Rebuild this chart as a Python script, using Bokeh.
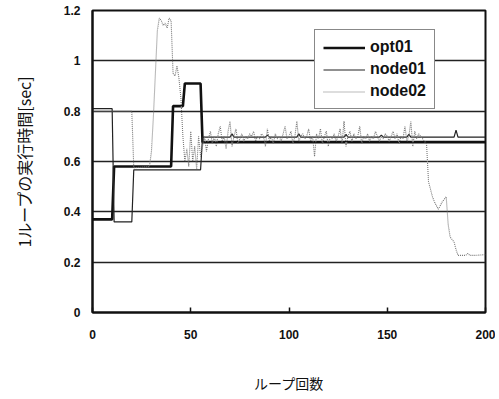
from bokeh.plotting import figure
from bokeh.models import FixedTicker, Legend, LegendItem, CustomJSTickFormatter, Range1d
from bokeh.embed import file_html
from bokeh.resources import INLINE

# ---- data ----
x_ticks = [0, 50, 100, 150, 200]
y_ticks = [0, 0.2, 0.4, 0.6, 0.8, 1.0, 1.2]

opt01_x = [0, 10, 11, 40, 41, 46, 47, 55, 56, 200]
opt01_y = [0.37, 0.37, 0.58, 0.58, 0.82, 0.82, 0.91, 0.91, 0.677, 0.677]

node01_x = [0, 10, 11, 20, 21, 55, 56, 70, 71, 72, 88, 89, 90, 104, 105, 106,
            128, 129, 130, 146, 147, 148, 160, 161, 162, 184, 185, 186, 200]
node01_y = [0.81, 0.81, 0.36, 0.36, 0.567, 0.567, 0.697, 0.697, 0.71, 0.697, 0.697, 0.705, 0.697, 0.697, 0.71, 0.697,
            0.697, 0.708, 0.697, 0.697, 0.705, 0.697, 0.697, 0.708, 0.697, 0.697, 0.725, 0.697, 0.697]

node02_x = [0, 20, 21, 29, 30, 31, 32, 33, 34, 35, 36, 37, 38, 39, 40, 41, 42, 43, 44, 45,
            46, 47, 48, 49, 50, 51, 52, 53, 54, 55,
            56, 57, 58, 59, 60, 61, 62, 63, 64, 65, 66, 67, 68, 69, 70, 71, 72, 73, 74, 75,
            76, 77, 78, 79, 80, 81, 82, 83, 84, 85, 86, 87, 88, 89, 90, 91, 92, 93, 94, 95,
            96, 97, 98, 99, 100, 101, 102, 103, 104, 105, 106, 107, 108, 109, 110, 111, 112, 113, 114, 115,
            116, 117, 118, 119, 120, 121, 122, 123, 124, 125, 126, 127, 128, 129, 130, 131, 132, 133, 134, 135,
            136, 137, 138, 139, 140, 141, 142, 143, 144, 145, 146, 147, 148, 149, 150, 151, 152, 153, 154, 155,
            156, 157, 158, 159, 160, 161, 162, 163, 164, 165, 166, 167, 168, 169, 170,
            171, 172, 173, 174, 176, 178, 180, 181, 182, 183, 184, 185, 186, 188, 190, 191, 192, 195, 200]
node02_y = [0.80, 0.80, 0.575, 0.58, 0.64, 0.78, 0.95, 1.12, 1.17, 1.16, 1.14, 1.15, 1.13, 1.17, 1.16, 0.95, 0.94, 0.98, 0.93, 0.85,
            0.70, 0.60, 0.65, 0.58, 0.72, 0.60, 0.66, 0.57, 0.70, 0.62,
            0.66, 0.70, 0.64, 0.69, 0.72, 0.67, 0.70, 0.66, 0.71, 0.74, 0.68, 0.70, 0.65, 0.72, 0.76, 0.66, 0.70, 0.73, 0.67, 0.69,
            0.71, 0.68, 0.70, 0.69, 0.71, 0.70, 0.72, 0.68, 0.70, 0.69, 0.71, 0.70, 0.66, 0.73, 0.68, 0.70, 0.67, 0.71, 0.69, 0.70,
            0.68, 0.71, 0.74, 0.69, 0.70, 0.72, 0.67, 0.70, 0.76, 0.68, 0.70, 0.71, 0.69, 0.70, 0.73, 0.68, 0.70, 0.62, 0.71, 0.69,
            0.73, 0.67, 0.70, 0.72, 0.66, 0.70, 0.69, 0.71, 0.68, 0.70, 0.73, 0.67, 0.76, 0.66, 0.70, 0.72, 0.68, 0.71, 0.69, 0.70,
            0.74, 0.67, 0.70, 0.69, 0.71, 0.68, 0.70, 0.69, 0.72, 0.70, 0.68, 0.70, 0.69, 0.71, 0.70, 0.68, 0.70, 0.72, 0.69, 0.71,
            0.67, 0.70, 0.69, 0.74, 0.68, 0.70, 0.76, 0.66, 0.72, 0.69, 0.71, 0.70, 0.69, 0.68, 0.67,
            0.52, 0.49, 0.46, 0.44, 0.41, 0.44, 0.46, 0.35, 0.30, 0.29, 0.28, 0.25, 0.227, 0.227, 0.227, 0.235, 0.227, 0.227, 0.23]

FONT = "Liberation Sans"
JFONT = "Noto Sans CJK JP"

p = figure(width=495, height=395, output_backend="svg", toolbar_location=None,
           x_range=Range1d(0, 200), y_range=Range1d(0, 1.2),
           min_border_left=92, min_border_right=10, min_border_top=10, min_border_bottom=83)
p.background_fill_color = "white"
p.border_fill_color = "white"
p.outline_line_color = "#111111"
p.outline_line_width = 2

p.xgrid.visible = False
p.ygrid.ticker = FixedTicker(ticks=y_ticks)
p.ygrid.grid_line_color = "#222222"
p.ygrid.grid_line_width = 1.3

p.xaxis.ticker = FixedTicker(ticks=x_ticks)
p.yaxis.ticker = FixedTicker(ticks=y_ticks)
p.yaxis.formatter = CustomJSTickFormatter(code="return tick.toFixed(1).replace(/\\.0$/, '')")

for ax in (p.xaxis[0], p.yaxis[0]):
    ax.axis_line_color = "#111111"
    ax.axis_line_width = 2
    ax.minor_tick_line_color = None
    ax.major_label_text_font = FONT
    ax.major_label_text_font_style = "bold"
    ax.major_label_text_font_size = "12px"
    ax.major_label_text_color = "#111111"
    ax.axis_label_text_font = JFONT
    ax.axis_label_text_font_style = "normal"
    ax.axis_label_text_color = "#111111"

p.xaxis.major_tick_in = 5
p.xaxis.major_tick_out = 0
p.xaxis.major_tick_line_width = 1.5
p.xaxis.major_tick_line_color = "#111111"
p.xaxis.major_label_standoff = 17
p.xaxis.axis_label = "ループ回数"
p.xaxis.axis_label_text_font_size = "14px"
p.xaxis.axis_label_standoff = 31

p.yaxis.major_tick_in = 0
p.yaxis.major_tick_out = 0
p.yaxis.major_label_standoff = 12
p.yaxis.axis_label = "1ループの実行時間[sec]"
p.yaxis.axis_label_text_font_size = "16px"
p.yaxis.axis_label_standoff = 25

r_opt = p.line(opt01_x, opt01_y, line_color="#111111", line_width=2.6)
r_n1 = p.line(node01_x, node01_y, line_color="#222222", line_width=1.2)
r_n2 = p.line(node02_x, node02_y, line_color="#777777", line_width=1.1, line_dash="1 1")

legend = Legend(items=[LegendItem(label="opt01", renderers=[r_opt]),
                       LegendItem(label="node01", renderers=[r_n1]),
                       LegendItem(label="node02", renderers=[r_n2])],
                location=(222, 203))
legend.border_line_color = "#111111"
legend.border_line_width = 1.5
legend.background_fill_color = "white"
legend.background_fill_alpha = 1
legend.label_text_font = FONT
legend.label_text_font_style = "bold"
legend.label_text_font_size = "16px"
legend.label_text_color = "#111111"
legend.glyph_width = 42
legend.glyph_height = 17
legend.label_height = 17
legend.label_standoff = 5
legend.padding = 8
legend.spacing = 4
legend.margin = 0
p.add_layout(legend)

open("out.html", "w").write(file_html(p, INLINE))
